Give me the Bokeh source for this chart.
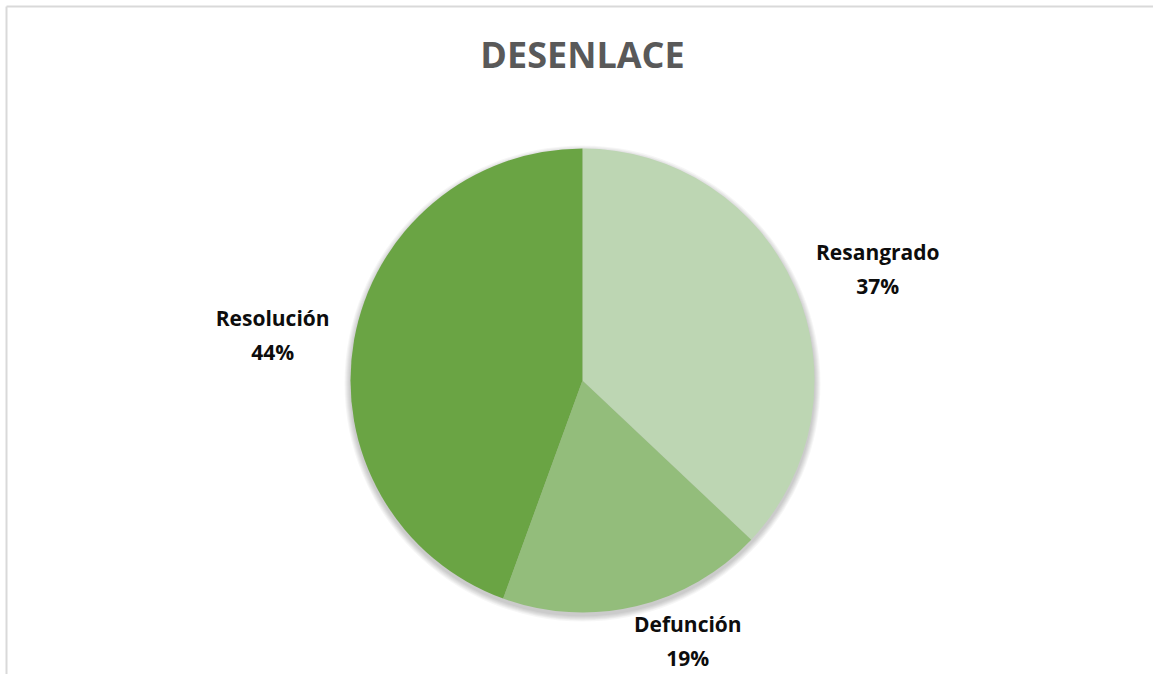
import math
from bokeh.plotting import figure
from bokeh.models import Range1d
from bokeh.core.properties import value
from bokeh.embed import file_html
from bokeh.resources import INLINE

# ---- data ----
title = "DESENLACE"
categories = ["Resangrado", "Defunción", "Resolución"]
counts = [10, 5, 12]
colors = ["#BDD6B3", "#93BD7B", "#6AA444"]

# ---- layout ----
W, H = 1153, 674
cx, cy = 582, H - 380
R = 232
label_dist = [1.36, 1.21, 1.35]
label_shift_deg = [2.7, -8.7, -1.6]
FONT = value("Open Sans")

p = figure(width=W, height=H, output_backend="svg", toolbar_location=None,
           x_range=Range1d(0, W), y_range=Range1d(0, H), min_border=0,
           background_fill_color="white", border_fill_color="white")
p.axis.visible = False
p.grid.visible = False
p.outline_line_color = None

# chart border (light gray)
p.line(x=[6, 6], y=[0, H - 6], line_color="#D9D9D9", line_width=2)
p.line(x=[6, W], y=[H - 6, H - 6], line_color="#D9D9D9", line_width=2)

# title
p.text(x=[cx], y=[H - 54], text=[title], text_font=FONT, text_font_style="bold",
       text_font_size="36px", text_color="#595959", text_align="center",
       text_baseline="middle")

# soft shadow
for k in range(6):
    p.circle(x=[cx], y=[cy - 3], radius=R + 1 + k, fill_color="#000000",
             fill_alpha=0.035, line_color=None)

total = sum(counts)
cum = 0.0
for i, (cat, c, col) in enumerate(zip(categories, counts, colors)):
    frac0 = cum / total
    cum += c
    frac1 = cum / total
    start = math.pi / 2 - frac0 * 2 * math.pi
    end = math.pi / 2 - frac1 * 2 * math.pi
    p.wedge(x=[cx], y=[cy], radius=R, start_angle=start, end_angle=end,
            direction="clock", fill_color=col, line_color=None)
    mid_deg = (frac0 + frac1) / 2 * 360 + label_shift_deg[i]
    th = math.radians(mid_deg)
    d = R * label_dist[i]
    lx = cx + d * math.sin(th)
    ly = cy + d * math.cos(th)
    pct = f"{round(c / total * 100)}%"
    p.text(x=[lx], y=[ly + 17], text=[cat], text_font=FONT, text_font_style="bold",
           text_font_size="21px", text_color="#0D0D0D", text_align="center",
           text_baseline="middle")
    p.text(x=[lx], y=[ly - 17], text=[pct], text_font=FONT, text_font_style="bold",
           text_font_size="21px", text_color="#0D0D0D", text_align="center",
           text_baseline="middle")

open("out.html", "w").write(file_html(p, INLINE))
